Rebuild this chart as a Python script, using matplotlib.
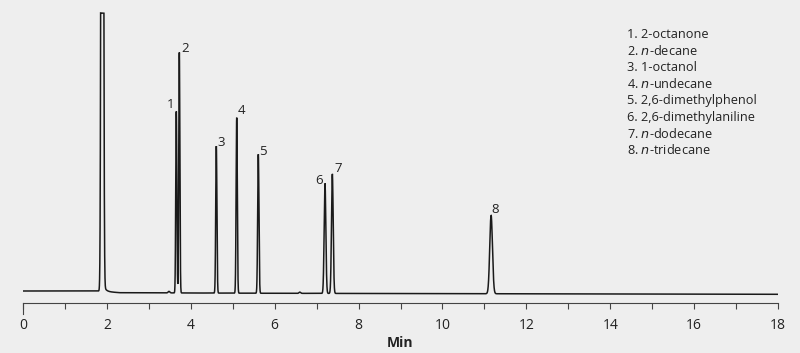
import numpy as np
import matplotlib
matplotlib.use("Agg")
import matplotlib.pyplot as plt

plt.rcParams['font.family'] = ['Open Sans', 'DejaVu Sans']

# ---- data (time in min, intensity in arbitrary units) ----
peak_labels = ["1", "2", "3", "4", "5", "6", "7", "8"]
peak_names = ["2-octanone", "$\\it{n}$-decane", "1-octanol", "$\\it{n}$-undecane",
              "2,6-dimethylphenol", "2,6-dimethylaniline", "$\\it{n}$-dodecane",
              "$\\it{n}$-tridecane"]
peak_times = [3.655, 3.727, 4.609, 5.095, 5.610, 7.200, 7.375, 11.160]
peak_heights = [181.5, 240.5, 147.0, 175.5, 139.0, 110.0, 119.5, 78.5]
peak_sigmas = [0.013, 0.013, 0.014, 0.014, 0.015, 0.020, 0.020, 0.032]

solvent_time = 1.89
solvent_height = 2000.0
solvent_sigma = 0.02
solvent_clip = 290.5
solvent_tail_height = 12.0
solvent_tail_tau = 0.05

minor_times = [3.48, 6.60]
minor_heights = [1.5, 1.2]
minor_sigmas = [0.02, 0.02]

baseline_times = [0.0, 1.80, 2.30, 6.00, 18.0]
baseline_levels = [12.3, 12.3, 10.6, 10.0, 9.0]

xticks_major = [0, 2, 4, 6, 8, 10, 12, 14, 16, 18]

# label offsets in pixels (dx, dy) relative to peak apex
label_offsets = [(-6, 7), (6, 4), (5, 4), (5, 7), (5, 2.5), (-5.5, 2.5), (6, 5), (4.5, 6)]

# ---- build trace ----
t = np.linspace(0, 18, 36001)
y = np.interp(t, baseline_times, baseline_levels)
solv = solvent_height * np.exp(-0.5 * ((t - solvent_time) / solvent_sigma) ** 2)
tail = np.where(t > solvent_time,
                solvent_tail_height * np.exp(-(t - solvent_time) / solvent_tail_tau), 0.0)
y = y + np.minimum(solv + tail, solvent_clip - 12.3)
for tm, h, s in zip(peak_times, peak_heights, peak_sigmas):
    y = y + h * np.exp(-0.5 * ((t - tm) / s) ** 2)
for tm, h, s in zip(minor_times, minor_heights, minor_sigmas):
    y = y + h * np.exp(-0.5 * ((t - tm) / s) ** 2)

bg = "#eeeeee"
fig = plt.figure(figsize=(8, 3.53), dpi=100, facecolor=bg)
ax = fig.add_axes([23 / 800, 1 - 303.3 / 353, 755 / 800, 298.3 / 353])
ax.set_facecolor(bg)
ax.plot(t, y, color="#1a1a1a", lw=1.1, solid_joinstyle="miter")
ax.set_xlim(0, 18)
ax.set_ylim(0, 298.3)

for sp in ["top", "right", "left"]:
    ax.spines[sp].set_visible(False)
ax.spines["bottom"].set_color("#444444")
ax.spines["bottom"].set_linewidth(0.8)
ax.set_yticks([])
ax.set_xticks(xticks_major)
ax.set_xticks(np.arange(0, 19, 1), minor=True)
ax.tick_params(axis="x", which="both", length=4.5, width=0.8, color="#444444",
               labelsize=10, labelcolor="#222222", pad=6)
ax.plot([0, 0], [0, -10.7], color="#444444", lw=0.8, clip_on=False)
ax.set_xlabel("Min", fontsize=10, fontweight="bold", color="#222222", labelpad=2)

# peak number labels
for lab, tm, h, (dx, dy) in zip(peak_labels, peak_times, peak_heights, label_offsets):
    apex = h + np.interp(tm, baseline_times, baseline_levels)
    ax.annotate(lab, xy=(tm, apex), xytext=(dx, dy), textcoords="offset pixels",
                ha="center", va="center", fontsize=9.5, color="#222222")

# legend list
for i, (lab, name) in enumerate(zip(peak_labels, peak_names)):
    fig.text(627 / 800, 1 - (34 + i * 16.6) / 353, f"{lab}. {name}",
             ha="left", va="center", fontsize=9.2, color="#222222")

fig.savefig("out.png", dpi=100, facecolor=bg)
